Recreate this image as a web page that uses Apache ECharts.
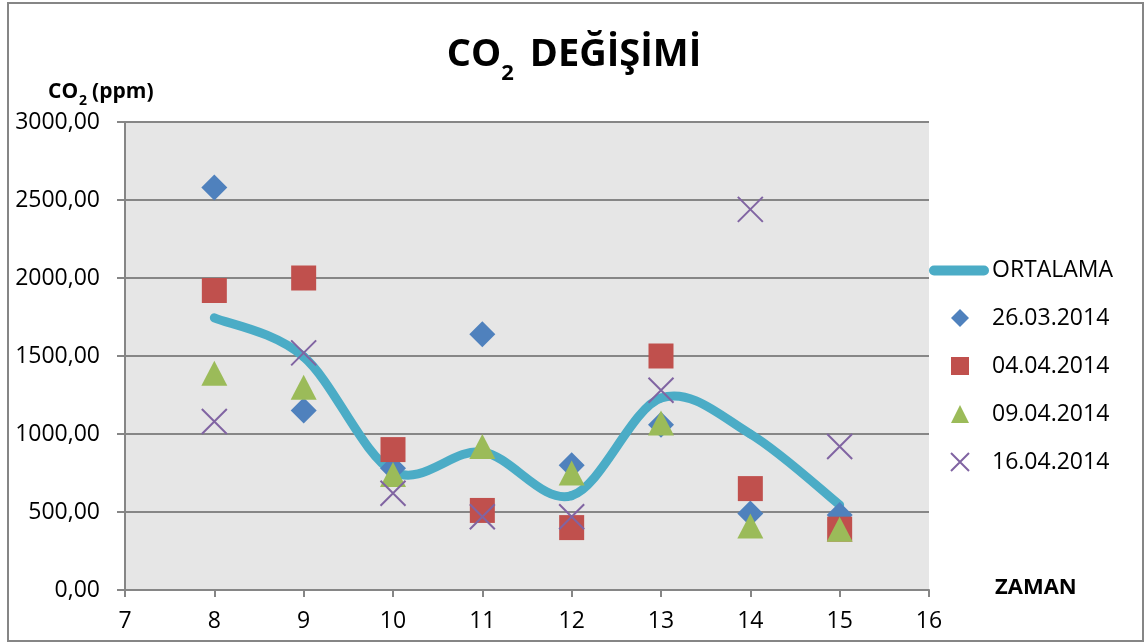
<!DOCTYPE html>
<html>
<head>
<meta charset="utf-8">
<script src="https://cdn.jsdelivr.net/npm/echarts@6/dist/echarts.min.js"></script>
<style>
  html, body { margin: 0; padding: 0; background: #fff; }
  #chart { width: 1148px; height: 644px; }
</style>
</head>
<body>
<div id="chart"></div>
<script>
const hours = [8, 9, 10, 11, 12, 13, 14, 15];
const ortalama = [1745, 1495, 760, 885, 605, 1230, 1000, 545];
const d2603 = [2580, 1150, 780, 1640, 800, 1060, 490, 480];
const d0404 = [1920, 2000, 900, 510, 400, 1500, 650, 390];
const d0904 = [1390, 1300, 740, 920, 750, 1070, 410, 390];
const d1604 = [1080, 1520, 620, 470, 470, 1280, 2440, 920];
const xTicks = { min: 7, max: 16, step: 1 };
const yTicks = { min: 0, max: 3000, step: 500 };

const FONT = "'Open Sans', 'Noto Sans', sans-serif";
const GRID_GRAY = "#868686";
const LINE_COLOR = "#4BACC6";

const pairs = (vals) => hours.map((h, i) => [h, vals[i]]);
const fmt = (v) => v.toFixed(2).replace(".", ",");

const chart = echarts.init(document.getElementById("chart"), null, { renderer: "canvas" });

const scatter = (name, data, symbol, size, color, extra) => ({
    name,
    type: "scatter",
    data: pairs(data),
    symbol,
    symbolSize: size,
    itemStyle: Object.assign({ color, opacity: 1 }, extra || {}),
    emphasis: { disabled: true },
    z: 3,
});

// spreadsheet-style smoothed line: one cubic segment per pair of points,
// control points from the neighbours (catmull-rom, tension 1/6)
const renderAvgSegment = (params, api) => {
    const i = params.dataIndex;
    if (i === 0) {
        return null;
    }
    const pt = (j) => {
        const k = Math.max(0, Math.min(hours.length - 1, j));
        return api.coord([hours[k], ortalama[k]]);
    };
    const p0 = pt(i - 2);
    const p1 = pt(i - 1);
    const p2 = pt(i);
    const p3 = pt(i + 1);
    const t = 1 / 6;
    return {
        type: "bezierCurve",
        shape: {
            x1: p1[0],
            y1: p1[1],
            x2: p2[0],
            y2: p2[1],
            cpx1: p1[0] + (p2[0] - p0[0]) * t,
            cpy1: p1[1] + (p2[1] - p0[1]) * t,
            cpx2: p2[0] - (p3[0] - p1[0]) * t,
            cpy2: p2[1] - (p3[1] - p1[1]) * t,
        },
        style: { fill: null, stroke: LINE_COLOR, lineWidth: 9, lineCap: "round" },
    };
};

chart.setOption({
    animation: false,
    backgroundColor: "#ffffff",
    title: [
        {
            text: "{a|CO}{b|2}{a|DEĞİŞİMİ}",
            left: "center",
            top: 21,
            textStyle: {
                rich: {
                    a: { fontFamily: FONT, fontWeight: "bold", fontSize: 38, color: "#000" },
                    b: { fontFamily: FONT, fontWeight: "bold", fontSize: 22, color: "#000", padding: [37, 16, 0, 0] },
                },
            },
        },
        {
            text: "{a|CO}{b|2}{a|(ppm)}",
            left: 43,
            top: 71,
            textStyle: {
                rich: {
                    a: { fontFamily: FONT, fontWeight: "bold", fontSize: 21, color: "#000" },
                    b: { fontFamily: FONT, fontWeight: "bold", fontSize: 14, color: "#000", padding: [18, 5, 0, 1] },
                },
            },
        },
    ],
    graphic: [
        {
            type: "rect",
            shape: { x: 8, y: 3, width: 1135, height: 638 },
            style: { fill: "none", stroke: GRID_GRAY, lineWidth: 2 },
            silent: true,
        },
        {
            type: "text",
            left: 995,
            top: 577,
            style: { text: "ZAMAN", font: "bold 22px " + FONT, fill: "#000" },
        },
    ],
    legend: [
        {
            data: [{ name: "ORTALAMA", icon: "path://M5,0H55A5,5 0 0 1 55,10H5A5,5 0 0 1 5,0Z" }],
            left: 924,
            top: 254,
            itemWidth: 60,
            itemHeight: 10,
            itemStyle: { color: LINE_COLOR },
            textStyle: { fontFamily: FONT, fontSize: 23, color: "#000", padding: [0, 0, 0, -2] },
        },
        {
            data: ["26.03.2014", "04.04.2014", "09.04.2014", "16.04.2014"],
            orient: "vertical",
            left: 945,
            top: 301,
            itemWidth: 18,
            itemHeight: 18,
            itemGap: 24,
            textStyle: { fontFamily: FONT, fontSize: 23, color: "#000", lineHeight: 24, padding: [0, 0, 0, 18] },
        },
    ],
    grid: {
        left: 125,
        right: 219,
        top: 122,
        bottom: 54,
        show: true,
        backgroundColor: "#E6E6E6",
        borderWidth: 0,
    },
    xAxis: {
        type: "value",
        min: xTicks.min,
        max: xTicks.max,
        interval: xTicks.step,
        axisLine: { show: true, lineStyle: { color: GRID_GRAY, width: 2 } },
        axisTick: { show: true, length: 7, lineStyle: { color: GRID_GRAY, width: 2 } },
        splitLine: { show: false },
        axisLabel: { fontFamily: FONT, fontSize: 23, color: "#000", margin: 20 },
    },
    yAxis: {
        type: "value",
        min: yTicks.min,
        max: yTicks.max,
        interval: yTicks.step,
        axisLine: { show: true, lineStyle: { color: GRID_GRAY, width: 2 } },
        axisTick: { show: true, length: 8, lineStyle: { color: GRID_GRAY, width: 2 } },
        splitLine: { show: true, lineStyle: { color: GRID_GRAY, width: 2 } },
        axisLabel: { fontFamily: FONT, fontSize: 23, color: "#000", margin: 25, formatter: fmt },
    },
    series: [
        {
            name: "ORTALAMA",
            type: "custom",
            data: pairs(ortalama),
            encode: { x: 0, y: 1 },
            renderItem: renderAvgSegment,
            itemStyle: { color: LINE_COLOR },
            emphasis: { disabled: true },
            clip: false,
            z: 2,
        },
        scatter("26.03.2014", d2603, "diamond", 26, "#4F81BD"),
        scatter("04.04.2014", d0404, "rect", 25, "#C0504D"),
        scatter("09.04.2014", d0904, "triangle", [26, 25], "#9BBB59"),
        scatter("16.04.2014", d1604, "path://M0,0L24,24M24,0L0,24", 25, "rgba(0,0,0,0)", {
            borderColor: "#8064A2",
            borderWidth: 2,
        }),
    ],
});
</script>
</body>
</html>
